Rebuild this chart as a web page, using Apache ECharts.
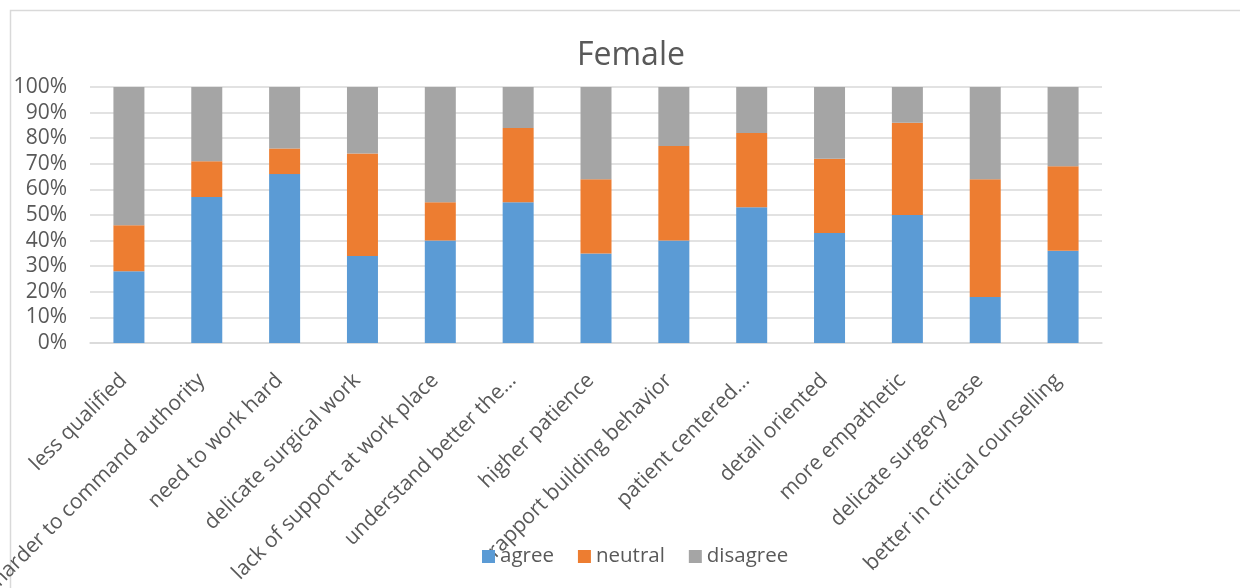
<!DOCTYPE html>
<html>
<head>
<meta charset="utf-8">
<script src="https://cdn.jsdelivr.net/npm/echarts@6/dist/echarts.min.js"></script>
<style>
  html, body { margin: 0; padding: 0; background: #ffffff; }
  #chart { width: 1240px; height: 588px; }
</style>
</head>
<body>
<div id="chart"></div>
<script>
// Survey statements (as shown on the axis, including truncated ones)
const categories = [
  'less qualified',
  'harder to command authority',
  'need to work hard',
  'delicate surgical work',
  'lack of support at work place',
  'understand better the\u2026',
  'higher patience',
  'rapport building behavior',
  'patient centered\u2026',
  'detail oriented',
  'more empathetic',
  'delicate surgery ease',
  'better in critical counselling'
];

// Share of female respondents per answer (%)
const agree    = [28, 57, 66, 34, 40, 55, 35, 40, 53, 43, 50, 18, 36];
const neutral  = [18, 14, 10, 40, 15, 29, 29, 37, 29, 29, 36, 46, 33];
const disagree = [54, 29, 24, 26, 45, 16, 36, 23, 18, 28, 14, 36, 31];

const yTicks = { min: 0, max: 100, step: 10 };

const FONT = '"Open Sans", "Noto Sans", sans-serif';
const TEXT = '#595959';
const GRID = '#d9d9d9';

const chart = echarts.init(document.getElementById('chart'), null, { renderer: 'canvas' });

function barSeries(name, data, color) {
  return {
    name: name,
    type: 'bar',
    stack: 'total',
    barWidth: 31,
    data: data,
    itemStyle: { color: color },
    emphasis: { disabled: true }
  };
}

chart.setOption({
  animation: false,
  backgroundColor: '#ffffff',
  textStyle: { fontFamily: FONT },
  graphic: [{
    type: 'rect',
    z: -10,
    shape: { x: 10.5, y: 10.5, width: 1400, height: 800 },
    style: { fill: 'none', stroke: GRID, lineWidth: 1.5 }
  }],
  title: {
    text: 'Female',
    left: 572,
    top: 35,
    textStyle: { fontFamily: FONT, fontSize: 32, fontWeight: 'normal', color: TEXT }
  },
  legend: {
    data: ['agree', 'neutral', 'disagree'],
    left: 477,
    top: 541,
    icon: 'rect',
    itemWidth: 13,
    itemHeight: 13,
    itemGap: 24,
    textStyle: { fontFamily: FONT, fontSize: 20.5, color: TEXT },
    selectedMode: false
  },
  grid: {
    left: 90, right: 138, top: 87, bottom: 245,
    containLabel: false,
    outerBoundsMode: 'none'
  },
  xAxis: {
    type: 'category',
    data: categories,
    axisLine: { lineStyle: { color: GRID, width: 1.5 } },
    axisTick: { show: false },
    axisLabel: {
      interval: 0,
      rotate: 45,
      align: 'right',
      verticalAlign: 'top',
      margin: 14,
      padding: [0, 18, 0, 0],
      fontFamily: FONT,
      fontSize: 21,
      lineHeight: 21,
      color: TEXT
    }
  },
  yAxis: {
    type: 'value',
    min: yTicks.min,
    max: yTicks.max,
    interval: yTicks.step,
    axisLine: { show: false },
    axisTick: { show: false },
    splitLine: { lineStyle: { color: GRID, width: 1.5 } },
    axisLabel: {
      formatter: '{value}%',
      margin: 23,
      fontFamily: FONT,
      fontSize: 21,
      color: TEXT
    }
  },
  series: [
    barSeries('agree', agree, '#5b9bd5'),
    barSeries('neutral', neutral, '#ed7d31'),
    barSeries('disagree', disagree, '#a5a5a5')
  ]
});
</script>
</body>
</html>
